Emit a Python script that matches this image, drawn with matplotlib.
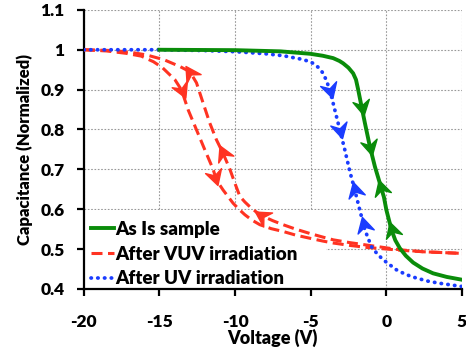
import numpy as np
import matplotlib
matplotlib.use("Agg")
import matplotlib.pyplot as plt
from matplotlib.path import Path
from matplotlib.markers import MarkerStyle
from matplotlib.transforms import Affine2D
from matplotlib.patches import Rectangle

plt.rcParams['font.family'] = ['Lato', 'DejaVu Sans']
plt.rcParams['font.weight'] = 'heavy'
plt.rcParams['axes.unicode_minus'] = False

# As Is sample (green)
asis_v = [-15, -10, -7, -5.05, -4.2, -3.51, -3.1, -2.85, -2.5, -2.19, -2.0, -1.85, -1.63,
          -1.41, -1.08, -0.75, -0.42, -0.15, 0.01, 0.35, 0.6, 0.9, 1.3, 1.78, 2.4, 3.1, 4.0, 5.0]
asis_c = [1.0, 0.999, 0.996, 0.99, 0.985, 0.979, 0.972, 0.966, 0.955, 0.941, 0.925, 0.899,
          0.857, 0.816, 0.757, 0.707, 0.665, 0.63, 0.598, 0.548, 0.522, 0.502, 0.483, 0.466,
          0.451, 0.439, 0.43, 0.423]

# After UV irradiation (blue)
uv_v = [-20, -15, -12, -9.9, -8, -6.8, -5.7, -5.2, -4.83, -4.5, -4.17, -3.95, -3.73, -3.4,
        -3.07, -2.74, -2.41, -2.08, -1.75, -1.41, -0.98, -0.6, -0.2, 0.25, 0.67, 1.3, 2.0,
        2.8, 3.54, 5.0]
uv_c = [1.0, 1.0, 0.998, 0.995, 0.99, 0.985, 0.977, 0.972, 0.966, 0.956, 0.941, 0.922, 0.899,
        0.849, 0.799, 0.749, 0.695, 0.648, 0.598, 0.548, 0.506, 0.488, 0.473, 0.46, 0.448,
        0.436, 0.427, 0.419, 0.414, 0.406]

# After VUV irradiation (red): sweep down (left) and sweep up (right)
vuv_down_v = [-20, -18.5, -17.2, -16.2, -15.4, -14.8, -14.31, -13.98, -13.54, -13.1, -12.55,
              -12.0, -11.45, -11.23, -10.79, -10.13, -9.75, -9.35, -8.9, -8.36, -7.6, -6.82,
              -6.0, -5.05, -4.2, -3.5, -2.4, -1.3, 0.0, 0.9, 2.5, 5.0]
vuv_down_c = [1.0, 0.997, 0.991, 0.984, 0.970, 0.955, 0.937, 0.925, 0.899, 0.849, 0.799,
              0.749, 0.70, 0.673, 0.648, 0.615, 0.60, 0.586, 0.573, 0.561, 0.551, 0.544,
              0.535, 0.527, 0.52, 0.515, 0.509, 0.504, 0.500, 0.497, 0.493, 0.489]
vuv_up_v = [-20, -18, -16.8, -15.86, -14.7, -13.65, -12.99, -12.55, -12.11, -11.67, -11.23,
            -10.79, -10.34, -10.01, -9.68, -9.35, -9.02, -8.6, -8.14, -7.5, -6.82, -6.0,
            -5.05, -4.2, -3.5, -2.4, -1.3, 0.0, 0.9, 2.5, 5.0]
vuv_up_c = [1.0, 0.998, 0.993, 0.987, 0.975, 0.958, 0.945, 0.917, 0.866, 0.816, 0.774,
            0.74, 0.70, 0.665, 0.632, 0.618, 0.606, 0.593, 0.582, 0.571, 0.561, 0.55,
            0.539, 0.53, 0.523, 0.516, 0.510, 0.503, 0.498, 0.493, 0.489]

# arrow positions (voltage) and direction of the sweep
asis_arrows = [(-1.63, 'down'), (-1.08, 'down'), (-0.32, 'up'), (0.35, 'up')]
uv_arrows = [(-3.73, 'down'), (-3.07, 'down'), (-2.08, 'up'), (-1.5, 'up')]
vuv_down_arrows = [(-13.54, 'down'), (-11.3, 'down')]
vuv_up_arrows = [(-12.95, 'up'), (-10.79, 'up'), (-8.2, 'up')]

green = '#0a8c0a'
red = '#ff3322'
blue = '#1a3cff'

fig = plt.figure(figsize=(4.66, 3.54), dpi=100)
ax = fig.add_axes([0.180, 0.184, 0.811, 0.788])
ax.set_xlim(-20, 5)
ax.set_ylim(0.4, 1.1)

l1, = ax.plot(asis_v, asis_c, color=green, lw=2.8, zorder=4, label='As Is sample')
l2, = ax.plot(vuv_down_v, vuv_down_c, color=red, lw=2.2, ls=(0, (3.6, 1.8)), zorder=3,
              label='After VUV irradiation')
ax.plot(vuv_up_v, vuv_up_c, color=red, lw=2.2, ls=(0, (3.6, 1.8)), zorder=3)
l3, = ax.plot(uv_v, uv_c, color=blue, lw=2.7, ls=(0, (0.1, 1.7)), dash_capstyle='round',
              zorder=3.5, label='After UV irradiation')

chevron = Path([(1, 0), (-0.8, 1.0), (-0.2, 0), (-0.8, -1.0), (1, 0)],
               [Path.MOVETO, Path.LINETO, Path.LINETO, Path.LINETO, Path.CLOSEPOLY])


def draw_arrows(vs, cs, arrows, color, z):
    vs = np.asarray(vs, float)
    cs = np.asarray(cs, float)
    for v, d in arrows:
        c = np.interp(v, vs, cs)
        p0 = ax.transData.transform((v - 0.05, np.interp(v - 0.05, vs, cs)))
        p1 = ax.transData.transform((v + 0.05, np.interp(v + 0.05, vs, cs)))
        ang = np.degrees(np.arctan2(p1[1] - p0[1], p1[0] - p0[0]))
        if d == 'up':
            ang += 180
        m = MarkerStyle(chevron, transform=Affine2D().rotate_deg(ang))
        ax.plot([v], [c], marker=m, ms=12, color=color, mec=color, ls='none', zorder=z)


draw_arrows(asis_v, asis_c, asis_arrows, green, 5)
draw_arrows(uv_v, uv_c, uv_arrows, blue, 5)
draw_arrows(vuv_down_v, vuv_down_c, vuv_down_arrows, red, 5)
draw_arrows(vuv_up_v, vuv_up_c, vuv_up_arrows, red, 5)

yt = np.round(np.arange(0.4, 1.101, 0.1), 1)
ax.set_xticks([-20, -15, -10, -5, 0, 5])
ax.set_yticks(yt)
ax.set_yticklabels(['{:g}'.format(t) for t in yt])
ax.grid(True, color='#999999', ls=(0, (1.5, 1.5)), lw=0.8, zorder=0)
ax.set_axisbelow(True)
for s in ['top', 'right']:
    ax.spines[s].set_visible(False)
for s in ['left', 'bottom']:
    ax.spines[s].set_linewidth(1.6)
ax.tick_params(axis='x', direction='out', length=5, width=1.6, pad=13, labelsize=12.5)
ax.tick_params(axis='y', direction='out', length=5, width=1.6, pad=9, labelsize=12.5)
ax.set_xlabel('Voltage (V)', fontsize=13, fontweight='heavy', labelpad=-1)
ax.set_ylabel('Capacitance (Normalized)', fontsize=12, fontweight='heavy', labelpad=5)

# white box behind the legend (covers grid only)
ax.add_patch(Rectangle((0, 0), 0.64, 0.282, transform=ax.transAxes, facecolor='white',
                       edgecolor='none', zorder=1))
leg = ax.legend(handles=[l1, l2, l3], loc='lower left', bbox_to_anchor=(-0.01, -0.035),
                frameon=False, fontsize=13.5, handlelength=1.2, handletextpad=0.1,
                labelspacing=0.42, borderaxespad=0.2)
leg.set_zorder(2)
for t in leg.get_texts():
    t.set_fontweight('heavy')

fig.savefig('out.png', dpi=100)
